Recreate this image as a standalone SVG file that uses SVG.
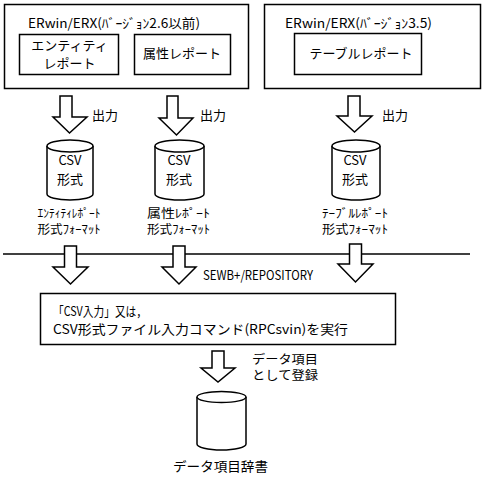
<svg xmlns="http://www.w3.org/2000/svg" width="489" height="481" viewBox="0 0 489 481">
<style>
.box{fill:#fff;stroke:#000;stroke-width:1.5}
.arr{fill:#fff;stroke:#000;stroke-width:1.5;stroke-linejoin:miter}
.cyl{fill:#fff;stroke:#000;stroke-width:1.5}
text{font-family:"Noto Sans CJK JP","Noto Sans",sans-serif;font-size:13px;fill:#000}
.m{text-anchor:middle}
.lb{font-size:12px}
</style>
<rect width="489" height="481" fill="#fff"/>
<g id="connectors">
<line x1="3" y1="254" x2="470" y2="254" stroke="#000" stroke-width="1.5"/>
<path class="arr" d="M60,96 H72 V117 H87 L69.5,133 L53,117 H60 Z"/>
<path class="arr" d="M167,96 H178 V118 H193 L176.5,135 L159,118 H167 Z"/>
<path class="arr" d="M348,96 H360 V116 H372 L354.5,132 L337,116 H348 Z"/>
<text x="92" y="120">出力</text>
<text x="200" y="120">出力</text>
<text x="382" y="120">出力</text>
<path class="arr" d="M64.5,246 H76.5 V267 H88 L70.5,284 L53,267 H64.5 Z"/>
<path class="arr" d="M173,246 H185 V267 H196 L179,284 L162,267 H173 Z"/>
<path class="arr" d="M349.5,244 H361.5 V264 H373 L355.5,282 L338,264 H349.5 Z"/>
<text x="203" y="280" textLength="110" lengthAdjust="spacingAndGlyphs" font-size="12">SEWB+/REPOSITORY</text>
<path class="arr" d="M212,351 H224 V368 H235 L218,382 L201,368 H212 Z"/>
<text class="lb" x="252" y="364" textLength="66" lengthAdjust="spacingAndGlyphs">データ項目</text>
<text class="lb" x="252" y="380" textLength="66" lengthAdjust="spacingAndGlyphs">として登録</text>
</g>
<g id="erwin-old">
<rect class="box" x="4.5" y="4.5" width="244" height="84"/>
<text x="28" y="28" textLength="172" lengthAdjust="spacingAndGlyphs">ERwin/ERX(ﾊﾞｰｼﾞｮﾝ2.6以前)</text>
</g>
<g id="entity-report">
<rect class="box" x="19.5" y="34.5" width="99" height="40"/>
<text class="m" x="69.5" y="50">エンティティ</text>
<text class="m" x="69.5" y="68">レポート</text>
</g>
<g id="attr-report">
<rect class="box" x="134.5" y="34.5" width="96" height="40"/>
<text class="m" x="182" y="58">属性レポート</text>
</g>
<g id="erwin-new">
<rect class="box" x="264.5" y="4.5" width="216" height="84"/>
<text x="285" y="28" textLength="147" lengthAdjust="spacingAndGlyphs">ERwin/ERX(ﾊﾞｰｼﾞｮﾝ3.5)</text>
</g>
<g id="table-report">
<rect class="box" x="294.5" y="33.5" width="127" height="41"/>
<text class="m" x="361" y="58">テーブルレポート</text>
</g>
<g id="csv1">
<path class="cyl" d="M47,146 V194 A23,6 0 0 0 93,194 V146"/>
<ellipse class="cyl" cx="70" cy="146" rx="23" ry="6"/>
<text class="m" x="70" y="165">CSV</text>
<text class="m" x="70" y="184">形式</text>
<text class="m lb" x="69" y="218" textLength="63" lengthAdjust="spacingAndGlyphs">ｴﾝﾃｨﾃｨﾚﾎﾟｰﾄ</text>
<text class="m lb" x="69" y="234" textLength="63" lengthAdjust="spacingAndGlyphs">形式ﾌｫｰﾏｯﾄ</text>
</g>
<g id="csv2">
<path class="cyl" d="M155,146 V194 A24.5,6 0 0 0 204,194 V146"/>
<ellipse class="cyl" cx="179.5" cy="146" rx="24.5" ry="6"/>
<text class="m" x="179" y="165">CSV</text>
<text class="m" x="179" y="184">形式</text>
<text class="m lb" x="178.5" y="218" textLength="63" lengthAdjust="spacingAndGlyphs">属性ﾚﾎﾟｰﾄ</text>
<text class="m lb" x="178.5" y="234" textLength="63" lengthAdjust="spacingAndGlyphs">形式ﾌｫｰﾏｯﾄ</text>
</g>
<g id="csv3">
<path class="cyl" d="M332,146 V194 A24,6 0 0 0 380,194 V146"/>
<ellipse class="cyl" cx="356" cy="146" rx="24" ry="6"/>
<text class="m" x="355" y="165">CSV</text>
<text class="m" x="355" y="184">形式</text>
<text class="m lb" x="355" y="218" textLength="66" lengthAdjust="spacingAndGlyphs">ﾃｰﾌﾞﾙﾚﾎﾟｰﾄ</text>
<text class="m lb" x="355" y="234" textLength="66" lengthAdjust="spacingAndGlyphs">形式ﾌｫｰﾏｯﾄ</text>
</g>
<g id="csv-input">
<rect class="box" x="40.5" y="293.5" width="355" height="51"/>
<text x="53" y="316" textLength="94" lengthAdjust="spacingAndGlyphs">「CSV入力」又は，</text>
<text x="53" y="334" textLength="295" lengthAdjust="spacingAndGlyphs">CSV形式ファイル入力コマンド(RPCsvin)を実行</text>
</g>
<g id="dictionary">
<path class="cyl" d="M197,397 V444 A24.5,6 0 0 0 246,444 V397"/>
<ellipse class="cyl" cx="221.5" cy="397" rx="24.5" ry="5.5"/>
<text x="173" y="471" textLength="95" lengthAdjust="spacingAndGlyphs">データ項目辞書</text>
</g>
</svg>
